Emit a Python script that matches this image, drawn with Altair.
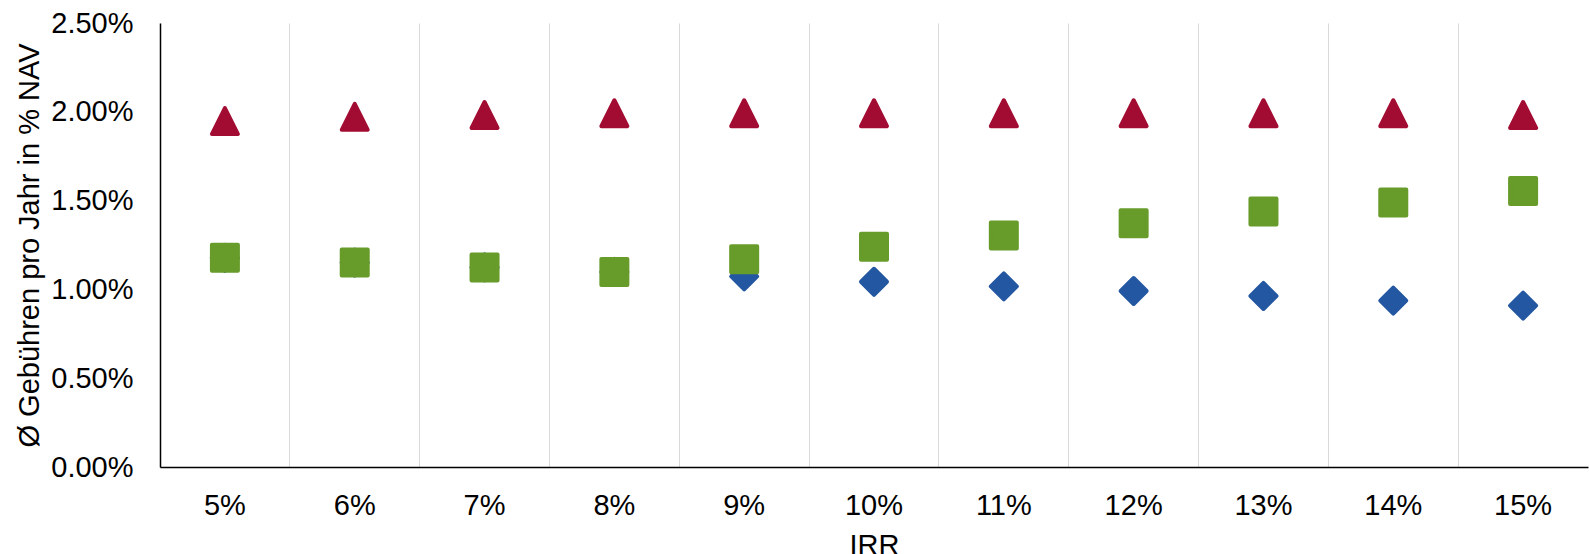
import altair as alt
import pandas as pd

# IRR scenarios on the x axis
irr = ["5%", "6%", "7%", "8%", "9%", "10%", "11%", "12%", "13%", "14%", "15%"]

# average annual fees in % of NAV (as fractions)
fees_total = [0.01948, 0.01972, 0.01982, 0.01992, 0.01992, 0.01992, 0.01992, 0.01992, 0.01992, 0.01992, 0.01982]
fees_with_carry = [0.01178, 0.01151, 0.01124, 0.01098, 0.01170, 0.01240, 0.01303, 0.01373, 0.01438, 0.01490, 0.01554]
fees_base = [0.01178, 0.01151, 0.01124, 0.01098, 0.01073, 0.01043, 0.01017, 0.00991, 0.00963, 0.00937, 0.00909]

RED = "#A20C32"
GREEN = "#679B2A"
BLUE = "#2457A1"
FONT = "Liberation Sans"
FS = 29

df = pd.DataFrame({
    "irr": irr,
    "total": fees_total,
    "carry": fees_with_carry,
    "base": fees_base,
})

W, H = 1428, 444

# grid lines sit on the category boundaries, labels stay at the band centre
x_enc = alt.X(
    "irr:N",
    sort=irr,
    scale=alt.Scale(type="band", paddingInner=0, paddingOuter=0),
    axis=alt.Axis(
        title="IRR",
        labelAngle=0,
        bandPosition=0,
        ticks=False,
        tickSize=0,
        grid=True,
        gridColor="#d9d9d9",
        gridWidth=1,
        labelPadding=24,
        labelFontSize=FS,
        labelColor="#000000",
        titleFontSize=FS,
        titleFontWeight="normal",
        titleColor="#000000",
        titleX=W / 2,
        titleY=87,
        titleAlign="center",
        titleBaseline="alphabetic",
        domainColor="#000000",
        domainWidth=1.5,
    ),
)

y_scale = alt.Scale(domain=[0, 0.025])
y_axis = alt.Axis(
    title="Ø Gebühren pro Jahr in % NAV",
    format=".2%",
    values=[0, 0.005, 0.01, 0.015, 0.02, 0.025],
    ticks=False,
    tickSize=0,
    grid=False,
    labelPadding=27,
    labelFontSize=FS,
    labelColor="#000000",
    titleFontSize=FS,
    titleFontWeight="normal",
    titleColor="#000000",
    titleAngle=270,
    titleX=-131,
    titleY=H / 2,
    titleAlign="center",
    titleBaseline="middle",
    domainColor="#000000",
    domainWidth=1.5,
)

base = alt.Chart(df)

SQUARE = "M-1,-1H1V1H-1Z"
TRIANGLE = "M0,-1L1,1L-1,1Z"
DIAMOND = "M0,-1L1,0L0,1L-1,0Z"


def markers(col, shape, color):
    return base.mark_point(
        shape=shape,
        size=676,
        filled=True,
        fill=color,
        stroke=color,
        strokeWidth=4,
        strokeJoin="round",
        opacity=1,
    ).encode(
        x=x_enc,
        y=alt.Y(f"{col}:Q", scale=y_scale, axis=y_axis),
    )


chart = alt.layer(
    markers("base", DIAMOND, BLUE),
    markers("carry", SQUARE, GREEN),
    markers("total", TRIANGLE, RED),
).properties(
    width=W,
    height=H,
    padding={"left": 160, "top": 23, "right": 1, "bottom": 87},
    autosize=alt.AutoSizeParams(type="none"),
).configure(
    font=FONT,
).configure_view(
    stroke=None,
)

chart.save("out.html", embed_options={"renderer": "svg", "actions": False})
